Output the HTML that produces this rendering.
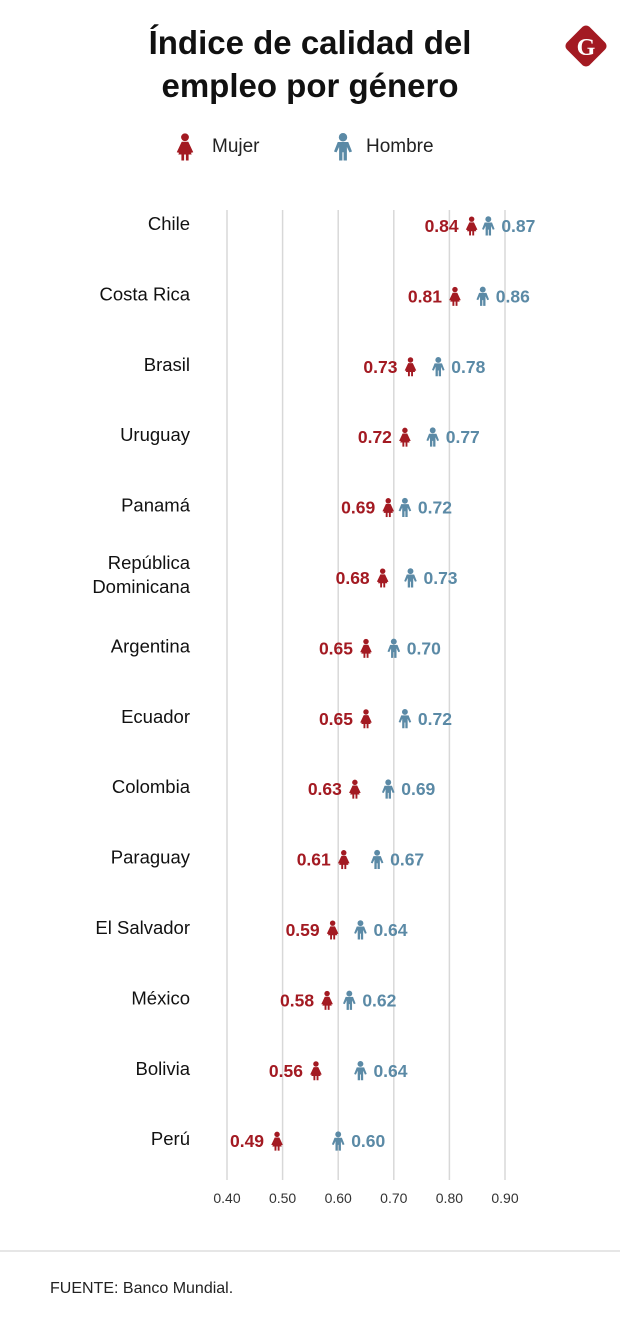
<!DOCTYPE html>
<html><head><meta charset="utf-8"><style>
body{margin:0;background:#fff;width:620px;height:1334px;overflow:hidden;font-family:"Liberation Sans",sans-serif}
</style></head><body>
<svg width="620" height="1334" viewBox="0 0 620 1334">
<defs>
<g id="woman"><circle cx="0" cy="-6.5" r="2.6"/><path d="M-2.2,-3.5 L2.2,-3.5 L5.5,3.5 L3.5,4 L3,2 L4.5,5 L-4.5,5 L-3,2 L-3.5,4 L-5.5,3.5 Z"/><rect x="-2.4" y="4.5" width="1.8" height="4.5"/><rect x="0.6" y="4.5" width="1.8" height="4.5"/></g>
<g id="man"><circle cx="0" cy="-6.5" r="2.8"/><path d="M-3.5,-3.3 L3.5,-3.3 L6,3 L4.3,3.6 L2.6,0 L2.6,9 L0.4,9 L0.4,3.5 L-0.4,3.5 L-0.4,9 L-2.6,9 L-2.6,0 L-4.3,3.6 L-6,3 Z"/></g>
</defs>
<text x="310" y="54" text-anchor="middle" font-size="33" font-weight="bold" fill="#111">Índice de calidad del</text>
<text x="310" y="97" text-anchor="middle" font-size="33" font-weight="bold" fill="#111">empleo por género</text>
<g><rect x="570" y="30" width="32" height="32" rx="5" transform="rotate(45 586 46)" fill="#a31a22"/><text x="586" y="55" text-anchor="middle" font-size="24" font-weight="bold" fill="#fff" font-family="Liberation Serif,serif">G</text></g>
<g><use href="#woman" fill="#a31a22" transform="translate(185 147) scale(1.5)"/><text x="212" y="152" font-size="19" fill="#222">Mujer</text></g>
<g><use href="#man" fill="#5b8aa6" transform="translate(343 147) scale(1.5)"/><text x="366" y="152" font-size="19" fill="#222">Hombre</text></g>
<g id="grid"></g><g id="rows"></g>
<line x1="0" y1="1251" x2="620" y2="1251" stroke="#ddd" stroke-width="1.5"/>
<text x="50" y="1293" font-size="16" fill="#222">FUENTE: Banco Mundial.</text>
</svg>
<script>
const countries=["Chile","Costa Rica","Brasil","Uruguay","Panamá","República|Dominicana","Argentina","Ecuador","Colombia","Paraguay","El Salvador","México","Bolivia","Perú"];
const mujer=[0.84,0.81,0.73,0.72,0.69,0.68,0.65,0.65,0.63,0.61,0.59,0.58,0.56,0.49];
const hombre=[0.87,0.86,0.78,0.77,0.72,0.73,0.70,0.72,0.69,0.67,0.64,0.62,0.64,0.60];
const ticks=[0.4,0.5,0.6,0.7,0.8,0.9];
const NS="http://www.w3.org/2000/svg";
const x=v=>227+(v-0.4)*556;
const y=i=>226+i*70.4;
function mk(tag,attrs,parent){const e=document.createElementNS(NS,tag);for(const k in attrs)e.setAttribute(k,attrs[k]);parent.appendChild(e);return e;}
const grid=document.getElementById('grid'),rows=document.getElementById('rows');
ticks.forEach(t=>{
 const l=mk('line',{x1:x(t),x2:x(t),y1:210,y2:1180,stroke:'#d8d8d8','stroke-width':1.5},grid);
 
 
 const tx=mk('text',{x:x(t),y:1203,'text-anchor':'middle','font-size':14,fill:'#333'},grid);
 tx.textContent=t.toFixed(2);
 
 
});
countries.forEach((c,i)=>{
 const cy=y(i);
 const lab=mk('text',{x:190,'text-anchor':'end','font-size':18.5,fill:'#111'},rows);
 
 
 const parts=c.split('|');
 if(parts.length===1){lab.setAttribute('y',cy+4);lab.textContent=c;}
 else parts.forEach((p,k)=>{const ts=mk('tspan',{x:190,y:cy-9+k*24},lab);ts.textContent=p;});
 const w=mk('use',{href:'#woman',fill:'#a31a22',transform:`translate(${x(mujer[i])} ${cy}) scale(1.05)`},rows);
 
 
 const m=mk('use',{href:'#man',fill:'#5b8aa6',transform:`translate(${x(hombre[i])} ${cy}) scale(1.05)`},rows);
 
 
 const tw=mk('text',{x:x(mujer[i])-13,y:cy+6,'text-anchor':'end','font-size':17.5,'font-weight':'bold',fill:'#a31a22'},rows);
 tw.textContent=mujer[i].toFixed(2);
 
 
 const th=mk('text',{x:x(hombre[i])+13,y:cy+6,'font-size':17.5,'font-weight':'bold',fill:'#5b8aa6'},rows);
 th.textContent=hombre[i].toFixed(2);
 
 
});
</script>
</body></html>
